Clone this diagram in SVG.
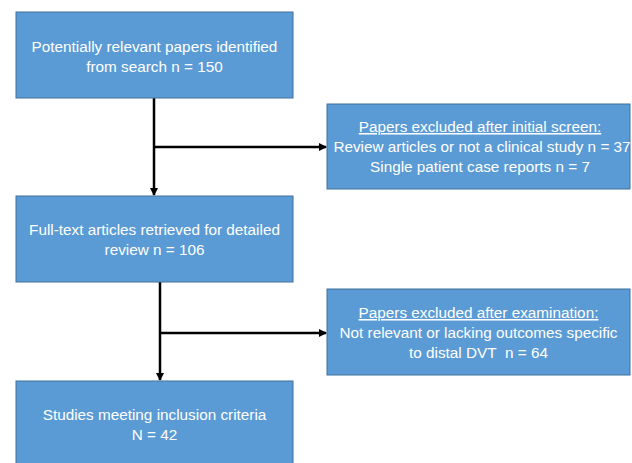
<svg xmlns="http://www.w3.org/2000/svg" width="632" height="463" viewBox="0 0 632 463">
<defs>
<style>
.box{fill:#5B9BD5;stroke:#41719C;stroke-width:1}
.t{font-family:"Liberation Sans",Arial,sans-serif;font-size:15.3px;fill:#ffffff;text-anchor:middle}
.u{text-decoration:underline}
.c{stroke:#000;stroke-width:2.5;fill:none}
</style>
<marker id="ah" markerWidth="8" markerHeight="8" refX="7" refY="4" orient="auto" markerUnits="userSpaceOnUse">
<path d="M0,0 L8,4 L0,8 Z" fill="#000"/>
</marker>
</defs>
<rect width="632" height="463" fill="#ffffff"/>
<g id="connectors">
<path class="c" d="M154,98 V195" marker-end="url(#ah)"/>
<path class="c" d="M154,147 H326" marker-end="url(#ah)"/>
<path class="c" d="M160,282 V380" marker-end="url(#ah)"/>
<path class="c" d="M160,333 H326" marker-end="url(#ah)"/>
</g>
<g id="n1">
<rect class="box" x="16" y="12" width="277" height="86"/>
<text class="t" x="154.5" y="52">Potentially relevant papers identified</text>
<text class="t" x="154.5" y="72">from search n = 150</text>
</g>
<g id="n2">
<rect class="box" x="327" y="104" width="303" height="85"/>
<text class="t u" x="480" y="132">Papers excluded after initial screen:</text>
<text class="t" x="482" y="152">Review articles or not a clinical study n = 37</text>
<text class="t" x="480" y="172">Single patient case reports n = 7</text>
</g>
<g id="n3">
<rect class="box" x="16" y="196" width="277" height="86"/>
<text class="t" x="154.5" y="235">Full-text articles retrieved for detailed</text>
<text class="t" x="154.5" y="255">review n = 106</text>
</g>
<g id="n4">
<rect class="box" x="327" y="289" width="303" height="86"/>
<text class="t u" x="478.5" y="318">Papers excluded after examination:</text>
<text class="t" x="478.5" y="338">Not relevant or lacking outcomes specific</text>
<text class="t" x="478.5" y="358">to distal DVT&#160; n = 64</text>
</g>
<g id="n5">
<rect class="box" x="16" y="381" width="277" height="90"/>
<text class="t" x="154.5" y="420">Studies meeting inclusion criteria</text>
<text class="t" x="154.5" y="440">N = 42</text>
</g>
</svg>
